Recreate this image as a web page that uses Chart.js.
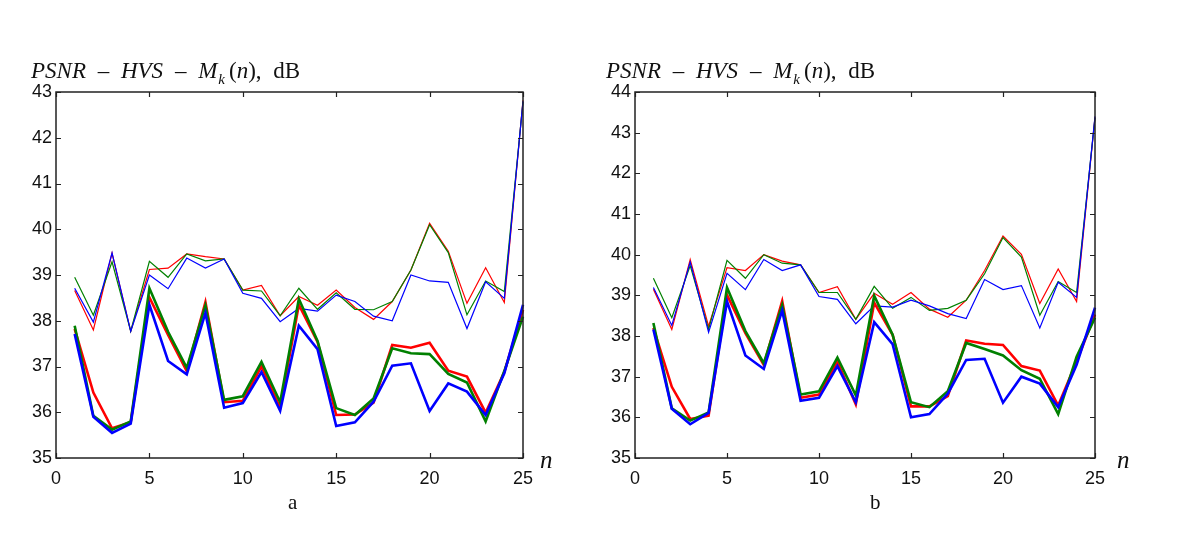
<!DOCTYPE html>
<html>
<head>
<meta charset="utf-8">
<script src="https://cdn.jsdelivr.net/npm/chart.js@4.4.1/dist/chart.umd.min.js"></script>
<style>
  html, body { margin:0; padding:0; background:#fff; }
  body { width:1200px; height:539px; position:relative; overflow:hidden; }
  canvas { position:absolute; top:0; }
  .ttl { position:absolute; font-family:'Liberation Serif','DejaVu Serif',serif; font-size:23px; line-height:23px; color:#111; white-space:nowrap; word-spacing:6px; }
  .ttl sub { font-size:15px; vertical-align:-6px; line-height:0; margin-right:4px; margin-left:1px; }
  .lab { position:absolute; font-family:'Liberation Serif','DejaVu Serif',serif; color:#111; white-space:nowrap; }
</style>
</head>
<body>
<canvas id="ca" width="580" height="539" style="left:0px"></canvas>
<canvas id="cb" width="620" height="539" style="left:580px"></canvas>

<div class="ttl" style="left:31px; top:59px;"><i>PSNR</i> – <i>HVS</i> – <i>M</i><sub><i>k</i></sub>(<i>n</i>), dB</div>
<div class="ttl" style="left:606px; top:59px;"><i>PSNR</i> – <i>HVS</i> – <i>M</i><sub><i>k</i></sub>(<i>n</i>), dB</div>
<div class="lab" style="left:540px; top:446px; font-size:25px;"><i>n</i></div>
<div class="lab" style="left:1117px; top:446px; font-size:25px;"><i>n</i></div>
<div class="lab" style="left:288px; top:490px; font-size:21px;">a</div>
<div class="lab" style="left:870px; top:490px; font-size:21px;">b</div>

<script>
// ---- data ----
const nValues = [1,2,3,4,5,6,7,8,9,10,11,12,13,14,15,16,17,18,19,20,21,22,23,24,25];
const xTickLabels = [0,5,10,15,20,25];
const yTicksA = [35,36,37,38,39,40,41,42,43];
const yTicksB = [35,36,37,38,39,40,41,42,43,44];

// panel a
const redThinA   = [38.66,37.80,39.48,37.77,39.12,39.15,39.46,39.40,39.35,38.67,38.77,38.11,38.53,38.34,38.67,38.29,38.03,38.42,39.11,40.13,39.52,38.38,39.16,38.40,42.82];
const greenThinA = [38.95,38.12,39.29,37.77,39.30,38.95,39.46,39.31,39.35,38.67,38.65,38.11,38.71,38.25,38.61,38.25,38.24,38.42,39.11,40.10,39.49,38.13,38.87,38.64,42.78];
const blueThinA  = [38.71,37.97,39.48,37.77,39.00,38.70,39.37,39.15,39.35,38.60,38.49,37.98,38.27,38.21,38.56,38.42,38.10,38.00,39.00,38.87,38.84,37.83,38.85,38.49,42.80];
const redThickA   = [37.82,36.43,35.65,35.78,38.51,37.69,36.90,38.41,36.22,36.25,37.00,36.10,38.35,37.54,35.94,35.95,36.21,37.47,37.41,37.52,36.91,36.78,35.99,36.88,38.24];
const greenThickA = [37.89,35.92,35.62,35.80,38.71,37.76,36.97,38.33,36.27,36.35,37.10,36.22,38.48,37.56,36.09,35.94,36.30,37.40,37.29,37.27,36.84,36.65,35.80,36.90,38.09];
const blueThickA  = [37.71,35.90,35.55,35.75,38.35,37.12,36.83,38.17,36.10,36.20,36.88,36.03,37.89,37.38,35.70,35.78,36.23,37.02,37.07,36.03,36.63,36.45,35.94,36.85,38.35];

// panel b
const redThinB   = [39.15,38.16,39.88,38.24,39.68,39.61,40.00,39.84,39.75,39.07,39.21,38.41,39.05,38.78,39.07,38.66,38.46,38.88,39.61,40.46,40.01,38.80,39.65,38.85,43.38];
const greenThinB = [39.42,38.45,39.73,38.16,39.86,39.42,40.00,39.79,39.75,39.07,39.07,38.41,39.22,38.68,38.95,38.63,38.68,38.88,39.53,40.42,39.94,38.51,39.34,39.07,43.36];
const blueThinB  = [39.19,38.26,39.82,38.09,39.54,39.14,39.88,39.61,39.75,38.97,38.90,38.30,38.74,38.71,38.88,38.74,38.55,38.43,39.39,39.14,39.24,38.20,39.32,38.95,43.40];
const redThickB   = [38.20,36.75,35.96,36.04,39.01,38.07,37.29,38.86,36.48,36.56,37.37,36.32,38.82,38.03,36.27,36.27,36.52,37.89,37.81,37.78,37.26,37.15,36.29,37.37,38.53];
const greenThickB = [38.32,36.22,35.92,36.12,39.19,38.12,37.33,38.76,36.56,36.64,37.47,36.54,38.99,38.03,36.37,36.25,36.64,37.83,37.68,37.52,37.16,36.95,36.08,37.49,38.45];
const blueThickB  = [38.16,36.21,35.83,36.11,38.85,37.52,37.19,38.63,36.41,36.48,37.26,36.37,38.34,37.80,36.00,36.08,36.58,37.41,37.44,36.36,37.00,36.83,36.25,37.29,38.70];

// ---- styles ----
const RED = '#ff0000', GREEN = '#008000', BLUE = '#0000ff';
const THIN = 1.2, THICK = 2.6;

function pts(vals){ return vals.map((v,i)=>({x:nValues[i], y:v})); }
function ds(vals, color, width, order){
  return { data: pts(vals), borderColor: color, backgroundColor: color, borderWidth: width,
           pointRadius: 0, tension: 0, fill: false, order: order, clip: false };
}

const boxTicks = {
  id: 'boxTicks',
  afterDatasetsDraw(chart){
    const {ctx, chartArea:a, scales:{x, y}} = chart;
    ctx.save();
    ctx.strokeStyle = '#222';
    ctx.lineWidth = 1.5;
    ctx.strokeRect(a.left, a.top, a.right - a.left, a.bottom - a.top);
    ctx.lineWidth = 1.2;
    const L = 5;
    ctx.beginPath();
    x.ticks.forEach(t => {
      const px = Math.round(x.getPixelForValue(t.value)) + 0.5;
      ctx.moveTo(px, a.bottom); ctx.lineTo(px, a.bottom - L);
      ctx.moveTo(px, a.top); ctx.lineTo(px, a.top + L);
    });
    y.ticks.forEach(t => {
      const py = Math.round(y.getPixelForValue(t.value)) + 0.5;
      ctx.moveTo(a.left, py); ctx.lineTo(a.left + L, py);
      ctx.moveTo(a.right, py); ctx.lineTo(a.right - L, py);
    });
    ctx.stroke();
    ctx.restore();
  }
};

function makeChart(id, sets, yTicks, leftW, rightPad, canvasH){
  const yMin = yTicks[0], yMax = yTicks[yTicks.length-1];
  return new Chart(document.getElementById(id), {
    type: 'line',
    data: { datasets: [
      ds(sets[0], RED,   THIN, 6),
      ds(sets[1], GREEN, THIN, 5),
      ds(sets[2], BLUE,  THIN, 4),
      ds(sets[3], RED,   THICK, 3),
      ds(sets[4], GREEN, THICK, 2),
      ds(sets[5], BLUE,  THICK, 1)
    ]},
    options: {
      responsive: false, animation: false, devicePixelRatio: 1,
      layout: { padding: { left: 0, top: 92, right: rightPad, bottom: 0 } },
      plugins: { legend: { display: false }, tooltip: { enabled: false }, title: { display: false } },
      scales: {
        x: {
          type: 'linear', min: 0, max: 25,
          afterBuildTicks: s => { s.ticks = xTickLabels.map(v => ({value: v})); },
          afterFit: s => { s.height = canvasH - 458; },
          grid: { display: false, drawTicks: false }, border: { display: false },
          ticks: { color: '#111', font: { family: "'Liberation Sans', Arial, sans-serif", size: 18 }, padding: 10, maxRotation: 0 }
        },
        y: {
          type: 'linear', min: yMin, max: yMax,
          afterBuildTicks: s => { s.ticks = yTicks.map(v => ({value: v})); },
          afterFit: s => { s.width = leftW; },
          grid: { display: false, drawTicks: false }, border: { display: false },
          ticks: { color: '#111', font: { family: "'Liberation Sans', Arial, sans-serif", size: 18 }, padding: 4 }
        }
      }
    },
    plugins: [boxTicks]
  });
}

makeChart('ca', [redThinA, greenThinA, blueThinA, redThickA, greenThickA, blueThickA], yTicksA, 56, 57, 539);
makeChart('cb', [redThinB, greenThinB, blueThinB, redThickB, greenThickB, blueThickB], yTicksB, 55, 105, 539);
</script>
</body>
</html>
